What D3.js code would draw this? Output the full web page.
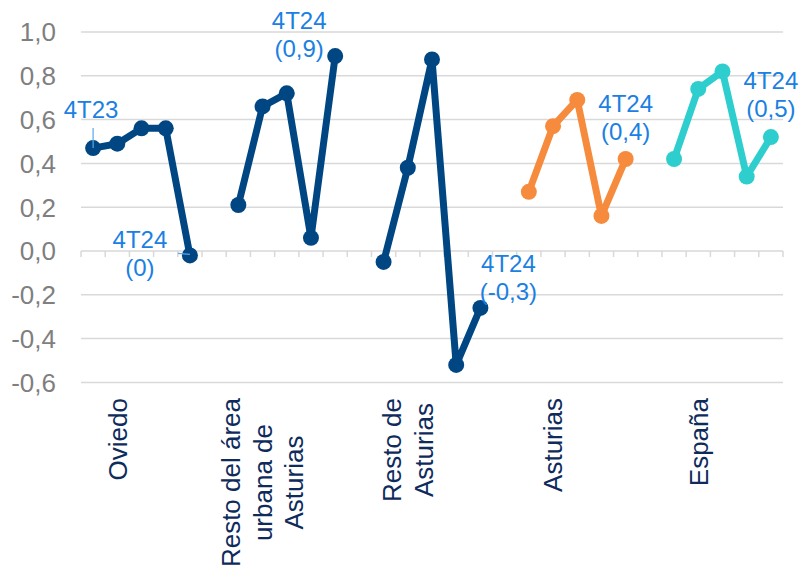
<!DOCTYPE html>
<html><head><meta charset="utf-8">
<script src="https://cdn.jsdelivr.net/npm/d3@7"></script>
<style>body{margin:0;background:#fff}svg{display:block}text{font-family:"Liberation Sans",Arial,sans-serif}</style>
</head><body><svg id="c" width="802" height="569"></svg>
<script>
const groups = ["Oviedo", "Resto del área urbana de Asturias", "Resto de Asturias", "Asturias", "España"];
const groupLines = [["Oviedo"], ["Resto del área", "urbana de", "Asturias"], ["Resto de", "Asturias"], ["Asturias"], ["España"]];
const quarters = ["4T23", "1T24", "2T24", "3T24", "4T24"];
const oviedo = [0.47, 0.49, 0.56, 0.56, -0.02];
const restoArea = [0.21, 0.66, 0.72, 0.06, 0.89];
const restoAsturias = [-0.05, 0.38, 0.875, -0.52, -0.26];
const asturias = [0.27, 0.57, 0.69, 0.16, 0.42];
const espana = [0.42, 0.74, 0.82, 0.34, 0.52];
const yTicks = [-0.6, -0.4, -0.2, 0, 0.2, 0.4, 0.6, 0.8, 1.0];
const labels = [
  {g: 0, q: 0, lines: ["4T23"]},
  {g: 0, q: 4, lines: ["4T24", "(0)"]},
  {g: 1, q: 4, lines: ["4T24", "(0,9)"]},
  {g: 2, q: 4, lines: ["4T24", "(-0,3)"]},
  {g: 3, q: 4, lines: ["4T24", "(0,4)"]},
  {g: 4, q: 4, lines: ["4T24", "(0,5)"]}
];

const seriesValues = [oviedo, restoArea, restoAsturias, asturias, espana];
const colors = ["#004682", "#004682", "#004682", "#F68B3D", "#2FCECE"];
// label placement offsets (style), in px relative to the point
const labelOffsets = [[-2, -30], [-50, -7], [-36, -27], [28, -36], [0, -47], [0, -48]];

// category slots: 5 quarters per group, blank slot between groups
const slots = [];
groups.forEach((g, gi) => {
  quarters.forEach(q => slots.push(g + "|" + q));
  if (gi < groups.length - 1) slots.push("gap" + gi);
});

const svg = d3.select("#c");
const x = d3.scaleBand().domain(slots).range([81, 783]).padding(0);
const y = d3.scaleLinear().domain([-0.6, 1.0]).range([382.4, 32]);
const cx = (g, q) => x(groups[g] + "|" + quarters[q]) + x.bandwidth() / 2;

// gridlines
svg.append("g").selectAll("line").data(yTicks).join("line")
  .attr("x1", 81).attr("x2", 783).attr("y1", d => y(d)).attr("y2", d => y(d))
  .attr("stroke", "#D9D9D9").attr("stroke-width", 1.5);

// y axis labels
svg.append("g").selectAll("text").data(yTicks).join("text")
  .attr("x", 56).attr("y", d => y(d)).attr("dy", "0.36em")
  .attr("text-anchor", "end").attr("fill", "#7F7F7F").attr("font-size", 26)
  .text(d => d3.format(".1f")(d).replace(".", ",").replace("−", "-"));

// category tick marks on zero line
const bounds = slots.map(s => x(s)).concat([783]);
svg.append("g").selectAll("line").data(bounds).join("line")
  .attr("x1", d => d).attr("x2", d => d).attr("y1", y(0)).attr("y2", y(0) + 6)
  .attr("stroke", "#D9D9D9").attr("stroke-width", 1.5);

// category labels
groupLines.forEach((lines, gi) => {
  const c = cx(gi, 1);
  const gEl = svg.append("g");
  const texts = lines.map((t, li) => gEl.append("text").text(t)
    .attr("font-size", 26).attr("fill", "#0E2B5C").attr("text-anchor", "middle"));
  const W = d3.max(texts, t => t.node().getComputedTextLength());
  const cy = 398 + W / 2;
  const n = lines.length, sp = 31.5;
  texts.forEach((t, li) => {
    const px = c + (li - (n - 1) / 2) * sp;
    t.attr("transform", `translate(${px},${cy}) rotate(-90)`).attr("dy", "0.36em");
  });
});

// lines and markers
seriesValues.forEach((vals, gi) => {
  const pts = vals.map((v, qi) => [cx(gi, qi), y(v)]);
  svg.append("path").attr("d", d3.line()(pts)).attr("fill", "none")
    .attr("stroke", colors[gi]).attr("stroke-width", 7).attr("stroke-linejoin", "round");
  svg.append("g").selectAll("circle").data(pts).join("circle")
    .attr("cx", d => d[0]).attr("cy", d => d[1]).attr("r", 8).attr("fill", colors[gi]);
});

// leader lines
const p0 = [cx(0, 0), y(oviedo[0])];
svg.append("line").attr("x1", p0[0]).attr("x2", p0[0]).attr("y1", p0[1] - 20).attr("y2", p0[1])
  .attr("stroke", "#5AA8EA").attr("stroke-width", 1.2);
const p4 = [cx(0, 4), y(oviedo[4])];
svg.append("line").attr("x1", p4[0] - 12).attr("x2", p4[0]).attr("y1", p4[1] - 2).attr("y2", p4[1] - 1)
  .attr("stroke", "#5AA8EA").attr("stroke-width", 1.2);

// data labels
labels.forEach((l, i) => {
  const px = cx(l.g, l.q) + labelOffsets[i][0];
  const py = y(seriesValues[l.g][l.q]) + labelOffsets[i][1];
  const t = svg.append("text").attr("font-size", 24).attr("fill", "#1A80E2").attr("text-anchor", "middle");
  l.lines.forEach((s, li) => t.append("tspan").attr("x", px).attr("y", py + li * 28).text(s));
});
</script></body></html>
